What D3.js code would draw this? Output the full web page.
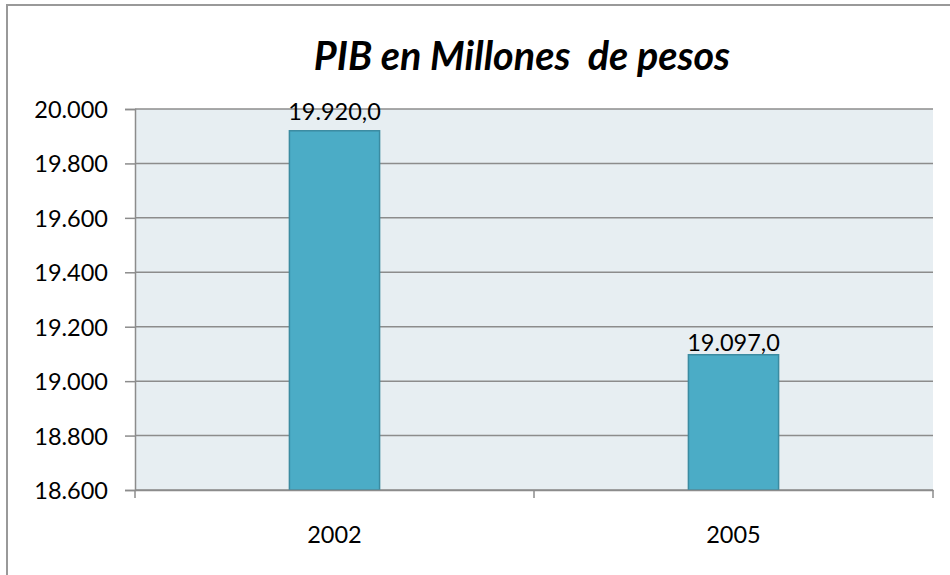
<!DOCTYPE html>
<meta charset="utf-8">
<head>
<script src="https://d3js.org/d3.v7.min.js"></script>
<style>
  body { margin: 0; background: #fff; }
  text { font-family: Lato, "Open Sans", sans-serif; fill: #000; }
</style>
</head>
<body>
<svg id="my_dataviz" width="950" height="575"></svg>
<script>
// data
var years = ["2002", "2005"];
var pib = [19920, 19097];
var yTicks = [18600, 18800, 19000, 19200, 19400, 19600, 19800, 20000];

var svg = d3.select("svg");

// outer chart frame (runs off the picture on right and bottom)
svg.append("rect")
  .attr("x", 7).attr("y", 5)
  .attr("width", 1000).attr("height", 620)
  .attr("fill", "#fff")
  .attr("stroke", "#999").attr("stroke-width", 2);

var margin = {left: 135, top: 109, right: 933, bottom: 490};

var x = d3.scaleBand()
  .domain(years)
  .range([margin.left, margin.right])
  .padding(0);

var y = d3.scaleLinear()
  .domain([18600, 20000])
  .range([margin.bottom, margin.top]);

// plot area
svg.append("rect")
  .attr("x", margin.left).attr("y", margin.top)
  .attr("width", margin.right - margin.left)
  .attr("height", margin.bottom - margin.top)
  .attr("fill", "#e7eef2");

// gridlines
svg.append("g")
  .selectAll("line")
  .data(yTicks)
  .enter()
  .append("line")
    .attr("x1", margin.left).attr("x2", margin.right)
    .attr("y1", function(d) { return y(d); })
    .attr("y2", function(d) { return y(d); })
    .attr("stroke", "#8c8c8c")
    .attr("stroke-width", 1.5);

// y axis
var yAxis = svg.append("g")
  .attr("transform", "translate(" + margin.left + ",0)")
  .call(d3.axisLeft(y)
    .tickValues(yTicks)
    .tickSize(10)
    .tickPadding(17)
    .tickFormat(function(d) { return d3.format(",")(d).replace(/,/g, "."); }));
yAxis.select(".domain").attr("stroke", "#8c8c8c").attr("stroke-width", 1.5);
yAxis.selectAll(".tick line").attr("stroke", "#8c8c8c").attr("stroke-width", 1.5);
yAxis.selectAll("text")
  .style("font-family", "Lato, sans-serif")
  .style("font-size", "23.5px")
  .attr("dy", "0.36em");

// bars
var barW = x.bandwidth() * 0.226;
svg.append("g")
  .selectAll("rect")
  .data(pib)
  .enter()
  .append("rect")
    .attr("x", function(d, i) { return x(years[i]) + x.bandwidth() / 2 - barW / 2; })
    .attr("y", function(d) { return y(d); })
    .attr("width", barW)
    .attr("height", function(d) { return y(18600) - y(d); })
    .attr("fill", "#4bacc6")
    .attr("stroke", "#3b8ba1")
    .attr("stroke-width", 1.5);

// data labels
var labelGap = [11, 4];
svg.append("g")
  .selectAll("text")
  .data(pib)
  .enter()
  .append("text")
    .attr("x", function(d, i) { return x(years[i]) + x.bandwidth() / 2; })
    .attr("y", function(d, i) { return y(d) - labelGap[i]; })
    .attr("text-anchor", "middle")
    .style("font-size", "23.5px")
    .text(function(d) { return d3.format(",.1f")(d).replace(/,/g, "#").replace(".", ",").replace(/#/g, "."); });

// x axis
var xAxis = svg.append("g")
  .attr("transform", "translate(0," + margin.bottom + ")")
  .call(d3.axisBottom(x).tickSize(0).tickPadding(0));
xAxis.select(".domain").attr("stroke", "#8c8c8c").attr("stroke-width", 1.5);
xAxis.selectAll("text")
  .style("font-family", "Lato, sans-serif")
  .style("font-size", "23.5px")
  .attr("y", 53).attr("dy", 0);
// category separators
svg.append("g")
  .selectAll("line")
  .data([years[0], years[1], null])
  .enter()
  .append("line")
    .attr("x1", function(d) { return d === null ? margin.right : x(d); })
    .attr("x2", function(d) { return d === null ? margin.right : x(d); })
    .attr("y1", margin.bottom).attr("y2", margin.bottom + 8)
    .attr("stroke", "#8c8c8c").attr("stroke-width", 1.5);

// title
svg.append("text")
  .attr("x", 522)
  .attr("y", 70)
  .attr("text-anchor", "middle")
  .style("font-size", "39.5px")
  .style("font-weight", "bold")
  .style("font-style", "italic")
  .style("white-space", "pre")
  .text("PIB en Millones  de pesos");
</script>
</body>
